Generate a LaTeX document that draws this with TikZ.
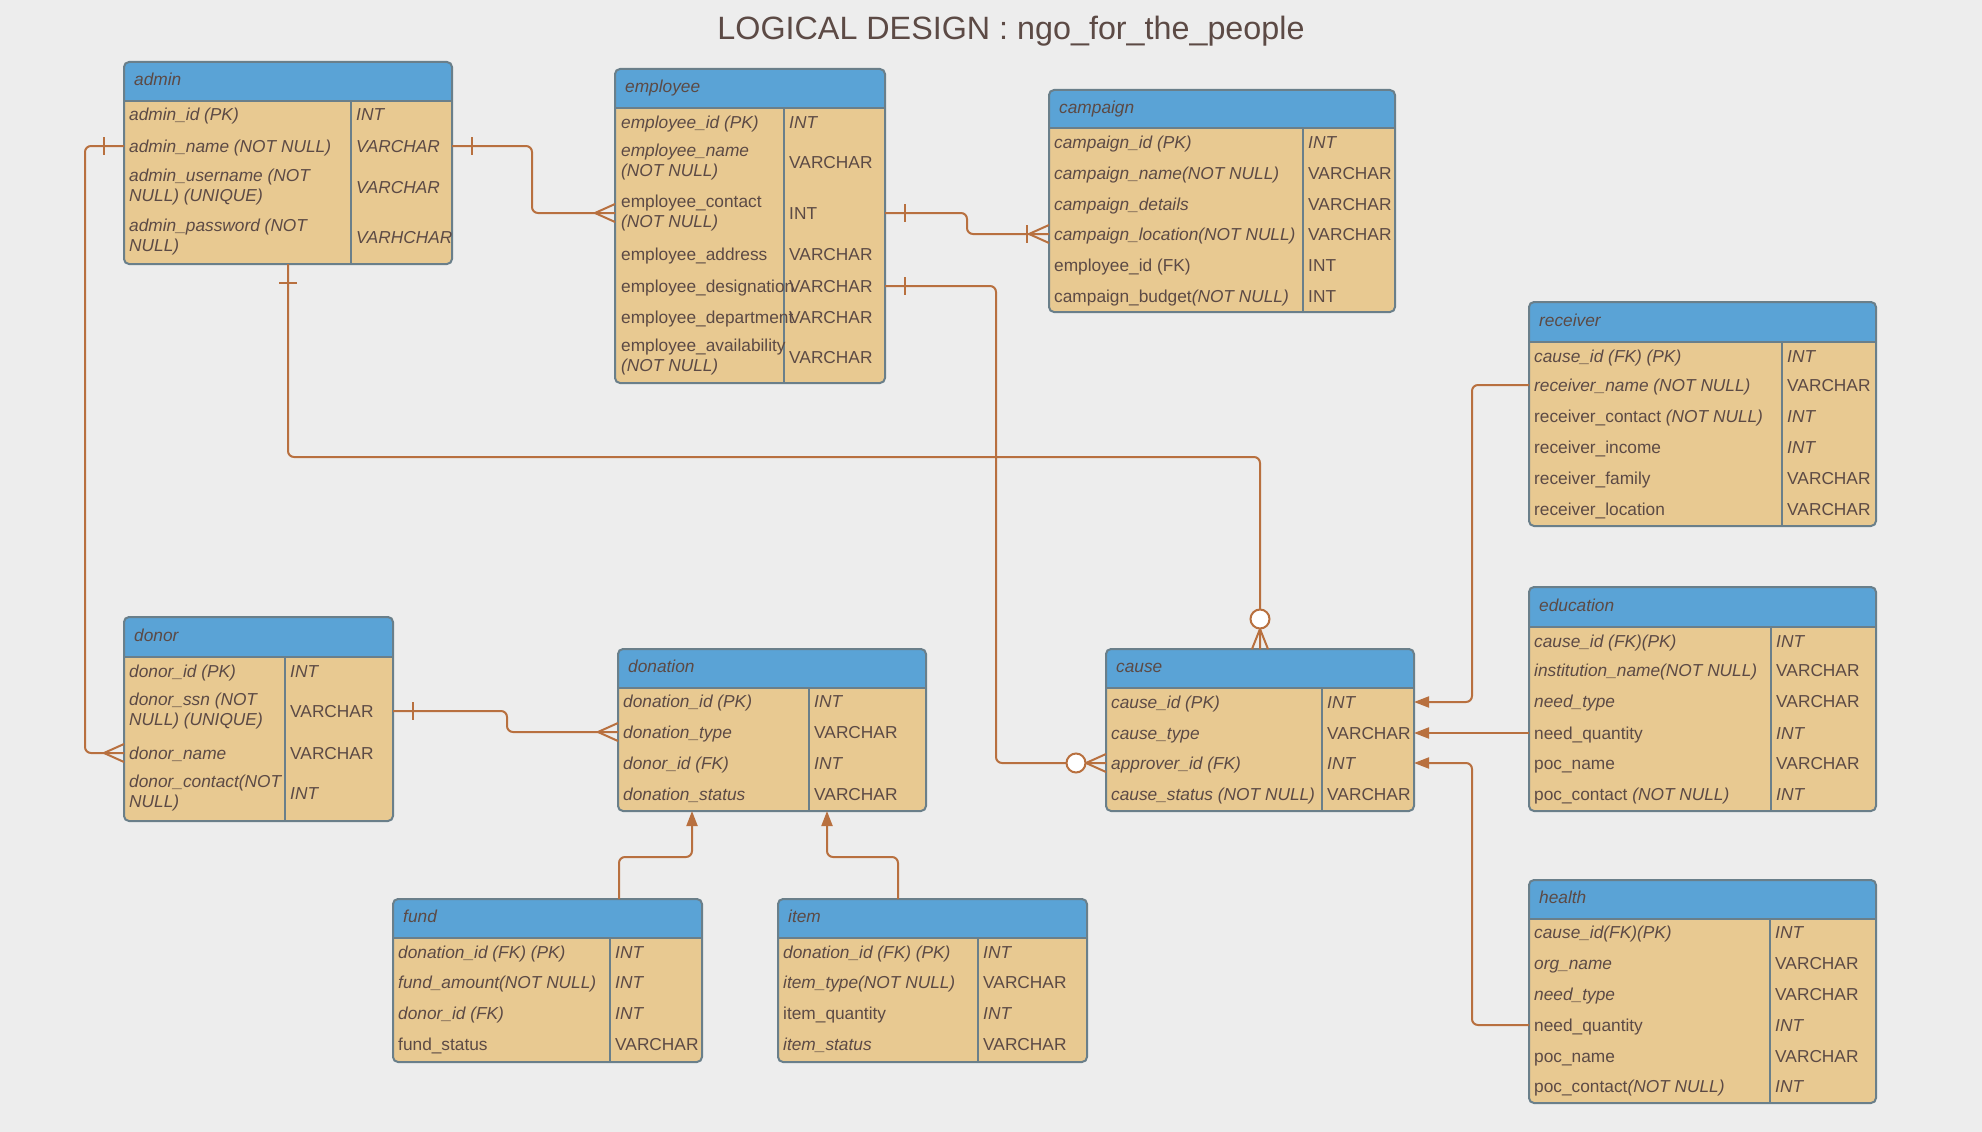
\documentclass[tikz,border=0pt]{standalone}
\usepackage{fontspec}
\setmainfont{Liberation Sans}
\usetikzlibrary{arrows.meta}
\definecolor{bgc}{HTML}{EDEDED}
\definecolor{hdrc}{HTML}{5AA3D6}
\definecolor{bodyc}{HTML}{E8C991}
\definecolor{framec}{HTML}{6A7F8A}
\definecolor{txtc}{HTML}{5C4A45}
\definecolor{linkc}{HTML}{B8703F}
\newcommand\fs{\fontsize{17.3}{20}\selectfont}
\newcommand\cellstrut{\rule[-3.8pt]{0pt}{20pt}}
\tikzset{
  tblframe/.style={fill=bodyc, draw=none, rounded corners=5pt, inner sep=0pt, outer sep=0pt},
  frameline/.style={draw=framec, line width=2pt},
  cell/.style={anchor=west, inner sep=0pt, text=txtc, align=left, execute at begin node=\cellstrut},
  ital/.style={font=\fs\itshape},
  upr/.style={font=\fs},
  link/.style={draw=linkc, line width=2pt, rounded corners=6pt},
  arr/.style={link, -{Triangle[length=15pt,width=11pt]}},
  ring/.style={draw=linkc, line width=2pt, fill=white},
}
% table frame: name, left, top, right, bottom, header bottom, divider x
\newcommand\ertable[7]{%
  \node[tblframe, minimum width={(#4-#2)*1pt}, minimum height={(#5-#3)*1pt}, anchor=north west] (#1) at (#2,#3) {};
  \begin{scope}
    \clip[rounded corners=5pt] (#2,#3) rectangle (#4,#5);
    \fill[hdrc] (#2,#3) rectangle (#4,#6);
  \end{scope}
  \draw[frameline] (#2,#6) -- (#4,#6);
  \draw[frameline] (#7,#6) -- (#7,#5);
  \draw[frameline, rounded corners=5pt] (#1.north west) rectangle (#1.south east);
  \node[cell, ital] (#1-h) at (#2+10,{(#3+#6)/2-2}) {#1};
}
% row: table, index, y, attr style, attr, type style, type
\newcommand\rw[7]{%
  \node[cell,#4] (#1-r#2) at (\colA,#3) {#5};
  \node[cell,#6] (#1-t#2) at (\colB,#3) {#7};
}
\newcommand\tickV[2]{\draw[link] (#1) ++(#2,-9) -- ++(0,18);}
\newcommand\tickH[2]{\draw[link] (#1) ++(-9,#2) -- ++(18,0);}
\newcommand\crowL[1]{\draw[link] (#1) ++(-20,0) -- ++(20,-9) (#1) ++(-20,0) -- ++(20,9);}
\newcommand\crowU[1]{\draw[link] (#1) ++(0,-20) -- ++(-8,20) (#1) ++(0,-20) -- ++(8,20);}
\begin{document}
\begin{tikzpicture}[x=1pt,y=-1pt]
\useasboundingbox (0,0) rectangle (1982,1132);
\fill[bgc] (0,0) rectangle (1982,1132);

\node[text=txtc, font=\fontsize{32.3}{38}\selectfont] (title) at (1011,31.5) {LOGICAL DESIGN : ngo\_for\_the\_people};

% admin
\ertable{admin}{124}{62}{452}{264}{101}{351}
\def\colA{129}\def\colB{356}
\rw{admin}{1}{114}{ital}{admin\_id (PK)}{ital}{INT}
\rw{admin}{2}{146}{ital}{admin\_name (NOT NULL)}{ital}{VARCHAR}
\rw{admin}{3}{187}{ital}{admin\_username (NOT\\NULL) (UNIQUE)}{ital}{VARCHAR}
\rw{admin}{4}{237}{ital}{admin\_password (NOT\\NULL)}{ital}{VARHCHAR}

% employee
\ertable{employee}{615}{69}{885}{383}{108}{784}
\def\colA{621}\def\colB{789}
\rw{employee}{1}{122}{ital}{employee\_id (PK)}{ital}{INT}
\rw{employee}{2}{162}{ital}{employee\_name\\(NOT NULL)}{upr}{VARCHAR}
\rw{employee}{3}{213}{upr}{employee\_contact\\{\itshape (NOT NULL)}}{upr}{INT}
\rw{employee}{4}{254}{upr}{employee\_address}{upr}{VARCHAR}
\rw{employee}{5}{286}{upr}{employee\_designation}{upr}{VARCHAR}
\rw{employee}{6}{317}{upr}{employee\_department}{upr}{VARCHAR}
\rw{employee}{7}{357}{upr}{employee\_availability\\{\itshape (NOT NULL)}}{upr}{VARCHAR}

% campaign
\ertable{campaign}{1049}{90}{1395}{312}{128}{1303}
\def\colA{1054}\def\colB{1308}
\rw{campaign}{1}{142}{ital}{campaign\_id (PK)}{ital}{INT}
\rw{campaign}{2}{173}{ital}{campaign\_name(NOT NULL)}{upr}{VARCHAR}
\rw{campaign}{3}{204}{ital}{campaign\_details}{upr}{VARCHAR}
\rw{campaign}{4}{234}{ital}{campaign\_location(NOT NULL)}{upr}{VARCHAR}
\rw{campaign}{5}{265}{upr}{employee\_id (FK)}{upr}{INT}
\rw{campaign}{6}{296}{upr}{campaign\_budget{\itshape(NOT NULL)}}{upr}{INT}

% receiver
\ertable{receiver}{1529}{302}{1876}{526}{342}{1782}
\def\colA{1534}\def\colB{1787}
\rw{receiver}{1}{356}{ital}{cause\_id (FK) (PK)}{ital}{INT}
\rw{receiver}{2}{385}{ital}{receiver\_name (NOT NULL)}{upr}{VARCHAR}
\rw{receiver}{3}{416}{upr}{receiver\_contact {\itshape (NOT NULL)}}{ital}{INT}
\rw{receiver}{4}{447}{upr}{receiver\_income}{ital}{INT}
\rw{receiver}{5}{478}{upr}{receiver\_family}{upr}{VARCHAR}
\rw{receiver}{6}{509}{upr}{receiver\_location}{upr}{VARCHAR}

% education
\ertable{education}{1529}{587}{1876}{811}{627}{1771}
\def\colA{1534}\def\colB{1776}
\rw{education}{1}{641}{ital}{cause\_id (FK)(PK)}{ital}{INT}
\rw{education}{2}{670}{ital}{institution\_name(NOT NULL)}{upr}{VARCHAR}
\rw{education}{3}{701}{ital}{need\_type}{upr}{VARCHAR}
\rw{education}{4}{733}{upr}{need\_quantity}{ital}{INT}
\rw{education}{5}{763}{upr}{poc\_name}{upr}{VARCHAR}
\rw{education}{6}{794}{upr}{poc\_contact {\itshape (NOT NULL)}}{ital}{INT}

% health
\ertable{health}{1529}{880}{1876}{1103}{919}{1770}
\def\colA{1534}\def\colB{1775}
\rw{health}{1}{932}{ital}{cause\_id(FK)(PK)}{ital}{INT}
\rw{health}{2}{963}{ital}{org\_name}{upr}{VARCHAR}
\rw{health}{3}{994}{ital}{need\_type}{upr}{VARCHAR}
\rw{health}{4}{1025}{upr}{need\_quantity}{ital}{INT}
\rw{health}{5}{1056}{upr}{poc\_name}{upr}{VARCHAR}
\rw{health}{6}{1086}{upr}{poc\_contact{\itshape(NOT NULL)}}{ital}{INT}

% donor
\ertable{donor}{124}{617}{393}{821}{657}{285}
\def\colA{129}\def\colB{290}
\rw{donor}{1}{671}{ital}{donor\_id (PK)}{ital}{INT}
\rw{donor}{2}{711}{ital}{donor\_ssn (NOT\\NULL) (UNIQUE)}{upr}{VARCHAR}
\rw{donor}{3}{753}{ital}{donor\_name}{upr}{VARCHAR}
\rw{donor}{4}{793}{ital}{donor\_contact(NOT\\NULL)}{ital}{INT}

% donation
\ertable{donation}{618}{649}{926}{811}{688}{809}
\def\colA{623}\def\colB{814}
\rw{donation}{1}{701}{ital}{donation\_id (PK)}{ital}{INT}
\rw{donation}{2}{732}{ital}{donation\_type}{upr}{VARCHAR}
\rw{donation}{3}{763}{ital}{donor\_id (FK)}{ital}{INT}
\rw{donation}{4}{794}{ital}{donation\_status}{upr}{VARCHAR}

% cause
\ertable{cause}{1106}{649}{1414}{811}{688}{1322}
\def\colA{1111}\def\colB{1327}
\rw{cause}{1}{702}{ital}{cause\_id (PK)}{ital}{INT}
\rw{cause}{2}{733}{ital}{cause\_type}{upr}{VARCHAR}
\rw{cause}{3}{763}{ital}{approver\_id (FK)}{ital}{INT}
\rw{cause}{4}{794}{ital}{cause\_status (NOT NULL)}{upr}{VARCHAR}

% fund
\ertable{fund}{393}{899}{702}{1062}{938}{610}
\def\colA{398}\def\colB{615}
\rw{fund}{1}{952}{ital}{donation\_id (FK) (PK)}{ital}{INT}
\rw{fund}{2}{982}{ital}{fund\_amount(NOT NULL)}{ital}{INT}
\rw{fund}{3}{1013}{ital}{donor\_id (FK)}{ital}{INT}
\rw{fund}{4}{1044}{upr}{fund\_status}{upr}{VARCHAR}

% item
\ertable{item}{778}{899}{1087}{1062}{938}{978}
\def\colA{783}\def\colB{983}
\rw{item}{1}{952}{ital}{donation\_id (FK) (PK)}{ital}{INT}
\rw{item}{2}{982}{ital}{item\_type(NOT NULL)}{upr}{VARCHAR}
\rw{item}{3}{1013}{upr}{item\_quantity}{ital}{INT}
\rw{item}{4}{1044}{ital}{item\_status}{upr}{VARCHAR}

% connector end points on the tables (table edge at the row of the key)
\coordinate (c1a) at (admin.west |- admin-r2);
\coordinate (c1b) at (donor.west |- donor-r3);
\coordinate (c2a) at (admin.east |- admin-r2);
\coordinate (c2b) at (employee.west |- employee-r3);
\coordinate (c3a) at (employee.east |- employee-r3);
\coordinate (c3b) at (campaign.west |- campaign-r4);
\coordinate (c4a) at (employee.east |- employee-r5);
\coordinate (c4b) at (cause.west |- cause-r3);
\coordinate (c5a) at (admin.south);
\coordinate (c5b) at (cause.north);
\coordinate (c6a) at (donor.east |- donor-r2);
\coordinate (c6b) at (donation.west |- donation-r2);

% relationship lines
\draw[link] (c1a) -- ++(-39,0) |- (c1b);
\draw[link] (c2a) -- ++(80,0) |- (c2b);
\draw[link] (c3a) -- ++(82,0) |- (c3b);
\draw[link] (c4a) -- ++(111,0) |- (c4b);
\draw[link] (c5a) -- ++(0,193) -| (c5b);
\draw[link] (c6a) -- ++(114,0) |- (c6b);

% markers
\tickV{c1a}{-20} \crowL{c1b}
\tickV{c2a}{20} \crowL{c2b}
\tickV{c3a}{20} \crowL{c3b} \tickV{c3b}{-22}
\tickV{c4a}{20} \crowL{c4b}
\draw[ring] (c4b) ++(-30,0) circle[radius=9.5];
\tickH{c5a}{19} \crowU{c5b}
\draw[ring] (c5b) ++(0,-30) circle[radius=9.5];
\tickV{c6a}{20} \crowL{c6b}

% inheritance arrows
\draw[arr] ([xshift=226pt]fund.north west) -- ++(0,-42) -| ([xshift=74pt]donation.south west);
\draw[arr] ([xshift=120pt]item.north west) -- ++(0,-42) -| ([xshift=209pt]donation.south west);
\draw[arr] (receiver.west |- receiver-r2) -- ++(-57,0) |- (cause.east |- cause-r1);
\draw[arr] (education.west |- education-r4) -- (cause.east |- education-r4);
\draw[arr] (health.west |- health-r4) -- ++(-57,0) |- (cause.east |- cause-r3);
\end{tikzpicture}
\end{document}
